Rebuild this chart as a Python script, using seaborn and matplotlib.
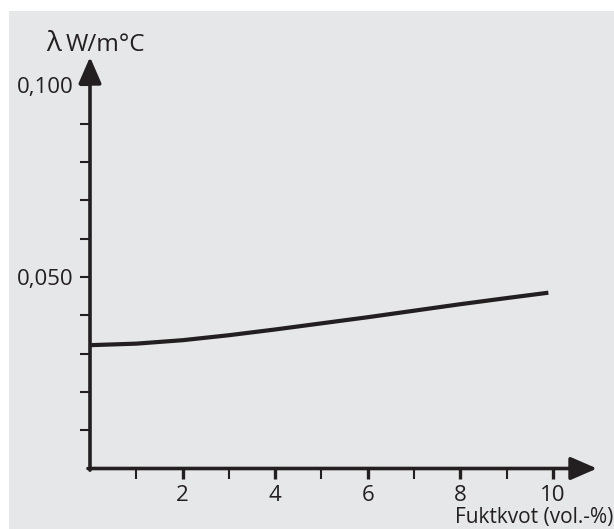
import matplotlib
matplotlib.use("Agg")
import matplotlib.pyplot as plt
import seaborn as sns
import pandas as pd
from matplotlib.patches import Rectangle

# ---- data ----
moisture = [0, 1, 2, 3, 4, 5, 6, 7, 8, 9, 9.9]
conductivity = [0.0322, 0.0326, 0.0335, 0.0348, 0.0363, 0.0379,
                0.0395, 0.0412, 0.0429, 0.0445, 0.0459]
x_major = [2, 4, 6, 8, 10]
x_minor = [1, 3, 5, 7, 9]
y_major = [0.05, 0.10]
y_labels = ["0,050", "0,100"]
y_minor = [0.01, 0.02, 0.03, 0.04, 0.06, 0.07, 0.08, 0.09]
y_title = "λ W/m°C"
x_title = "Fuktkvot (vol.-%)"

df = pd.DataFrame({"x": moisture, "y": conductivity})

sns.set_theme(style="white")
plt.rcParams["font.family"] = ["Open Sans", "DejaVu Sans"]

INK = "#231f20"
BG = "#e6e7e8"
W, H = 614, 529
fig = plt.figure(figsize=(W / 100, H / 100), dpi=100, facecolor="white")
fig.patches.append(Rectangle((9 / W, 0), 1, (H - 11) / H, transform=fig.transFigure,
                             facecolor=BG, edgecolor="none", zorder=-10))

x0, y0 = 90, 468.5
xt, yt = 597, 57
ax = fig.add_axes([x0 / W, (H - y0) / H, (xt - x0) / W, (y0 - yt) / H])
ax.set_zorder(1)
ax.patch.set_alpha(0)

sns.lineplot(data=df, x="x", y="y", ax=ax, color=INK, linewidth=3.0,
             solid_capstyle="butt")

ax.set_xlim(0, (xt - x0) / 46.3)
ax.set_ylim(0, (y0 - yt) / 3830)

for s in ax.spines.values():
    s.set_visible(False)

arrow = dict(arrowstyle="-|>,head_length=1.15,head_width=0.5", color=INK, lw=2.6,
             shrinkA=0, shrinkB=0, mutation_scale=14)
ax.annotate("", xy=(1, 0), xytext=(-0.004, 0), xycoords="axes fraction",
            arrowprops=arrow, annotation_clip=False)
ax.annotate("", xy=(0, 1), xytext=(0, -0.004), xycoords="axes fraction",
            arrowprops=arrow, annotation_clip=False)

ax.set_xticks(x_major)
ax.set_xticklabels([str(v) for v in x_major])
ax.set_xticks(x_minor, minor=True)
ax.set_yticks(y_major)
ax.set_yticklabels(y_labels)
ax.set_yticks(y_minor, minor=True)

ax.tick_params(axis="x", which="major", direction="out", length=7, width=2.4,
               color=INK, labelcolor=INK, labelsize=16, pad=5, bottom=True)
ax.tick_params(axis="x", which="minor", direction="out", length=7, width=1.5,
               color=INK, bottom=True)
ax.tick_params(axis="y", which="both", direction="out", length=7, width=1.5,
               color=INK, labelcolor=INK, labelsize=16, pad=5, left=True)

ax.set_xlabel("")
ax.set_ylabel("")

fig.text(46 / W, (H - 51) / H, "λ", fontsize=20, color=INK,
         ha="left", va="baseline")
fig.text(66 / W, (H - 51) / H, y_title.split(" ", 1)[1], fontsize=17.5, color=INK,
         ha="left", va="baseline")
fig.text(613 / W, (H - 523) / H, x_title, fontsize=15, color=INK,
         ha="right", va="baseline")

fig.savefig("out.png", dpi=100, facecolor="white")
